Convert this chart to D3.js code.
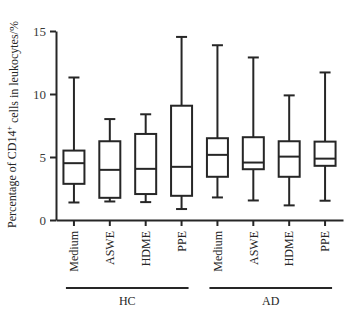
<!DOCTYPE html>
<html>
<head>
<meta charset="utf-8">
<script src="https://cdn.jsdelivr.net/npm/d3@7"></script>
<style>
  body { margin: 0; background: #fff; }
  text { font-family: "Liberation Serif", "DejaVu Serif", serif; }
</style>
</head>
<body>
<script>
/* DATA */
var categories = ["HC-Medium", "HC-ASWE", "HC-HDME", "HC-PPE", "AD-Medium", "AD-ASWE", "AD-HDME", "AD-PPE"];
var tickNames  = ["Medium", "ASWE", "HDME", "PPE", "Medium", "ASWE", "HDME", "PPE"];
var groups     = ["HC", "AD"];
var groupMembers = [["HC-Medium", "HC-PPE"], ["AD-Medium", "AD-PPE"]];
var mins    = [1.39, 1.47, 1.42, 0.87, 1.79, 1.55, 1.16, 1.53];
var q1s     = [2.87, 1.76, 2.06, 1.92, 3.43, 4.03, 3.43, 4.30];
var medians = [4.51, 3.98, 4.06, 4.22, 5.17, 4.56, 5.03, 4.87];
var q3s     = [5.51, 6.25, 6.83, 9.07, 6.49, 6.57, 6.25, 6.22];
var maxs    = [11.31, 8.01, 8.39, 14.53, 13.87, 12.90, 9.89, 11.71];
var yTicks  = [0, 5, 10, 15];

var W = 355, H = 314;
var margin = {top: 31, right: 12, bottom: 94, left: 56};
var width = W - margin.left - margin.right,
    height = H - margin.top - margin.bottom;

var x = d3.scaleBand().domain(categories).range([0, width]).padding(0);
var y = d3.scaleLinear().domain([0, 15]).range([height, 0]);

var data = categories.map(function(c, i) {
  return {cat: c, min: mins[i], q1: q1s[i], med: medians[i], q3: q3s[i], max: maxs[i]};
});

var ink = "#262626";
var boxW = 21, capW = 11;

var svg = d3.select("body").append("svg")
    .attr("width", W)
    .attr("height", H)
  .append("g")
    .attr("transform", "translate(" + margin.left + "," + margin.top + ")");

// boxes
var g = svg.selectAll(".box")
  .data(data)
  .enter().append("g")
    .attr("class", "box")
    .attr("transform", function(d) { return "translate(" + (x(d.cat) + x.bandwidth() / 2) + ",0)"; });

g.append("line")
  .attr("x1", 0).attr("x2", 0)
  .attr("y1", function(d) { return y(d.max); })
  .attr("y2", function(d) { return y(d.q3); })
  .attr("stroke", ink).attr("stroke-width", 2);
g.append("line")
  .attr("x1", 0).attr("x2", 0)
  .attr("y1", function(d) { return y(d.q1); })
  .attr("y2", function(d) { return y(d.min); })
  .attr("stroke", ink).attr("stroke-width", 2);
g.append("line")
  .attr("x1", -capW / 2).attr("x2", capW / 2)
  .attr("y1", function(d) { return y(d.max); })
  .attr("y2", function(d) { return y(d.max); })
  .attr("stroke", ink).attr("stroke-width", 2);
g.append("line")
  .attr("x1", -capW / 2).attr("x2", capW / 2)
  .attr("y1", function(d) { return y(d.min); })
  .attr("y2", function(d) { return y(d.min); })
  .attr("stroke", ink).attr("stroke-width", 2);
g.append("rect")
  .attr("x", -boxW / 2)
  .attr("width", boxW)
  .attr("y", function(d) { return y(d.q3); })
  .attr("height", function(d) { return y(d.q1) - y(d.q3); })
  .attr("fill", "#fff")
  .attr("stroke", ink).attr("stroke-width", 2);
g.append("line")
  .attr("x1", -boxW / 2).attr("x2", boxW / 2)
  .attr("y1", function(d) { return y(d.med); })
  .attr("y2", function(d) { return y(d.med); })
  .attr("stroke", ink).attr("stroke-width", 2);

// Y axis
var yAxis = svg.append("g")
  .call(d3.axisLeft(y).tickValues(yTicks).tickSize(6).tickPadding(4).tickSizeOuter(0));
yAxis.select(".domain").attr("stroke", ink).attr("stroke-width", 2);
yAxis.selectAll(".tick line").attr("stroke", ink).attr("stroke-width", 2);
yAxis.selectAll(".tick text")
  .attr("fill", "#3a3a3a")
  .style("font-size", "13px")
  .style("font-family", "Liberation Serif, serif");

// X axis
var xAxis = svg.append("g")
  .attr("transform", "translate(0," + height + ")")
  .call(d3.axisBottom(x).tickSize(6).tickSizeOuter(0).tickFormat(function(d, i) { return tickNames[i]; }));
xAxis.select(".domain").attr("stroke", ink).attr("stroke-width", 2);
xAxis.selectAll(".tick line").attr("stroke", ink).attr("stroke-width", 2);
xAxis.selectAll(".tick text")
  .attr("fill", "#262626")
  .style("font-size", "12px")
  .style("font-family", "Liberation Serif, serif")
  .attr("transform", "rotate(-90)")
  .attr("text-anchor", "end")
  .attr("x", -11)
  .attr("y", 0)
  .attr("dy", "0.35em");

// group lines and labels
groups.forEach(function(name, i) {
  var x0 = x(groupMembers[i][0]) + x.bandwidth() / 2 - 8;
  var x1 = x(groupMembers[i][1]) + x.bandwidth() / 2 + 7;
  svg.append("line")
    .attr("x1", x0).attr("x2", x1)
    .attr("y1", height + 68).attr("y2", height + 68)
    .attr("stroke", ink).attr("stroke-width", 2);
  svg.append("text")
    .attr("x", (x0 + x1) / 2)
    .attr("y", height + 85)
    .attr("text-anchor", "middle")
    .attr("fill", "#262626")
    .style("font-size", "12px")
    .text(name);
});

// y axis label
var ylab = svg.append("text")
  .attr("transform", "rotate(-90)")
  .attr("x", -height / 2 + 1)
  .attr("y", -40)
  .attr("text-anchor", "middle")
  .attr("fill", "#262626")
  .style("font-size", "12px");
ylab.append("tspan").text("Percentage of CD14");
ylab.append("tspan").attr("dy", "-0.45em").style("font-size", "8px").text("+");
ylab.append("tspan").attr("dy", "0.45em").text(" cells in leukocytes/%");
</script>
</body>
</html>
